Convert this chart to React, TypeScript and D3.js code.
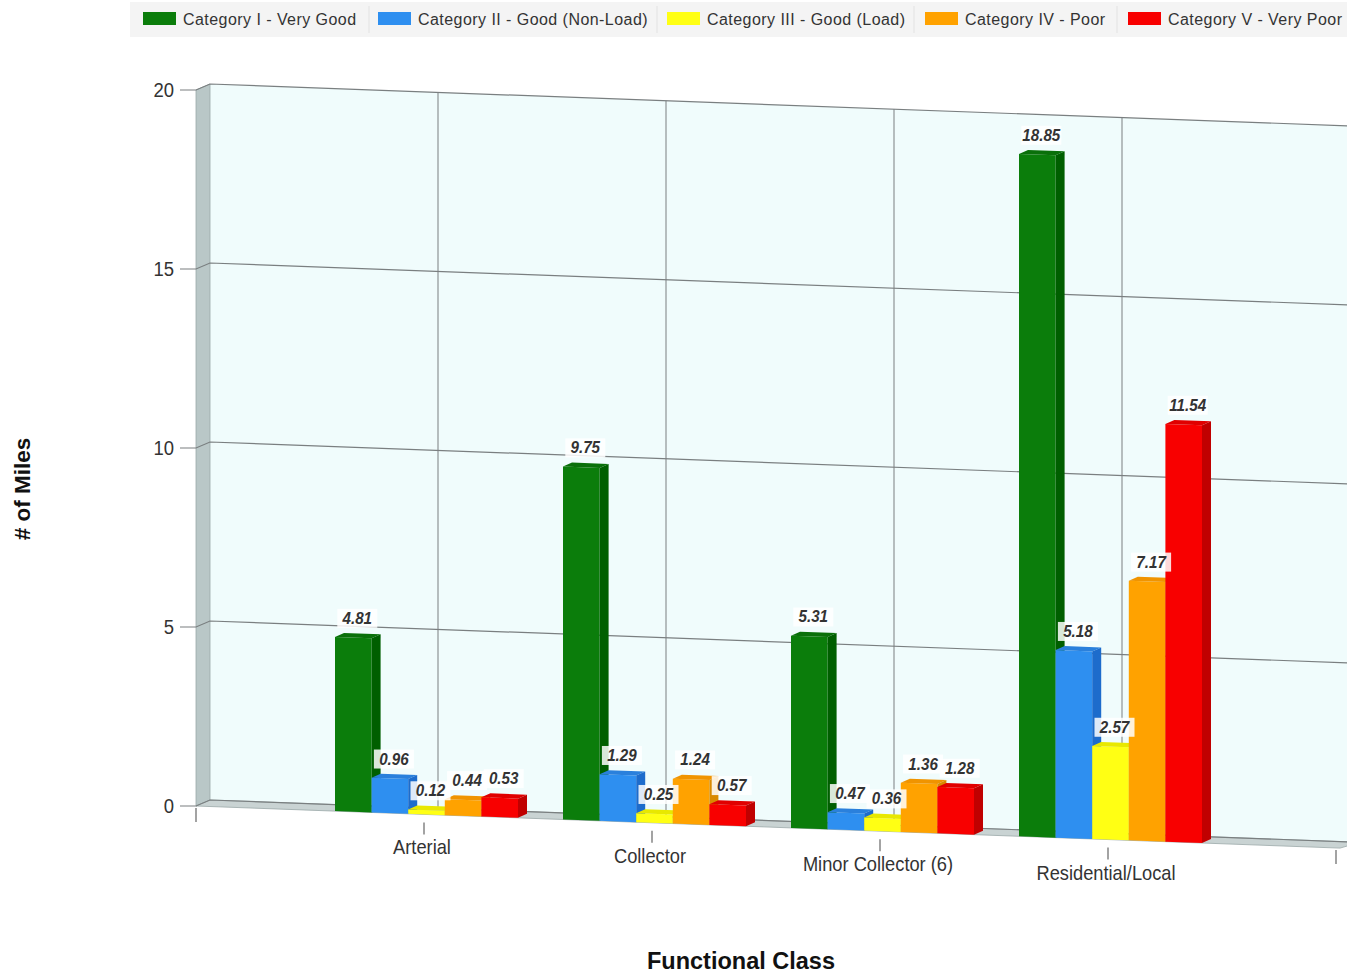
import React from "react";
import * as d3 from "d3";

const categories = ["Arterial", "Collector", "Minor Collector (6)", "Residential/Local"];
const seriesNames = [
  "Category I - Very Good",
  "Category II - Good (Non-Load)",
  "Category III - Good (Load)",
  "Category IV - Poor",
  "Category V - Very Poor",
];
const catI = [4.81, 9.75, 5.31, 18.85];
const catII = [0.96, 1.29, 0.47, 5.18];
const catIII = [0.12, 0.25, 0.36, 2.57];
const catIV = [0.44, 1.24, 1.36, 7.17];
const catV = [0.53, 0.57, 1.28, 11.54];
const seriesValues = [catI, catII, catIII, catIV, catV];
const yTicks = [0, 5, 10, 15, 20];

const frontColors = ["#0b7d0b", "#2e8ff0", "#ffff14", "#ffa200", "#f80000"];
const sideColors = ["#005f00", "#1d6ccc", "#d6d600", "#d98a00", "#c00000"];
const topColors = ["#0a700a", "#2a80dc", "#e8e800", "#f09400", "#e00000"];

const W = 1347;
const H = 973;
const X0 = 196;
const Y0 = 806;
const SLOPE = 0.0368;
const DDX = 14;
const DDY = -6;
const BAR_DX = 9;
const BAR_DY = -4;
const sans = "'Liberation Sans', Arial, Helvetica, sans-serif";

export default function App() {
  const xScale = d3.scaleLinear().domain([0, 5]).range([196, 1336]);
  const yWall = d3.scaleLinear().domain([0, 20]).range([0, 716]);
  const yBar = d3.scaleLinear().domain([0, 20]).range([0, 724]);
  const base = (sx: number) => Y0 + SLOPE * (sx - X0);
  const xL = xScale(0);
  const xR = xScale(5);
  const wallTop = (v: number, sx: number) => base(sx) + DDY - yWall(v);

  const gridLines = yTicks.map((t) => {
    const yFront = base(xL) - yWall(t);
    return {
      t,
      tick: `M${xL - 16},${yFront}L${xL},${yFront}L${xL + DDX},${wallTop(t, xL)}L${xR + DDX + 4},${wallTop(t, xR + 4)}`,
      yFront,
    };
  });

  const wallPoly = [
    [xL + DDX, wallTop(20, xL)],
    [xR + DDX + 10, wallTop(20, xR + 10)],
    [xR + DDX + 10, wallTop(0, xR + 10)],
    [xL + DDX, wallTop(0, xL)],
  ];
  const leftWall = [
    [xL, base(xL) - yWall(20)],
    [xL + DDX, wallTop(20, xL)],
    [xL + DDX, wallTop(0, xL)],
    [xL, base(xL)],
  ];
  const floor = [
    [xL, base(xL)],
    [xL + DDX, wallTop(0, xL)],
    [xR + DDX + 10, wallTop(0, xR + 10)],
    [xR + 4, base(xR + 4)],
  ];
  const pts = (p: number[][]) => p.map((q) => q.join(",")).join(" ");

  const band = d3.scaleBand<number>().domain(d3.range(5)).range([-91.5, 91.5]).padding(0);

  const bars: any[] = [];
  const labels: any[] = [];
  categories.forEach((c, ci) => {
    const center = xScale(ci + 1) + 2.5;
    seriesValues.forEach((vals, si) => {
      const v = vals[ci];
      const x0 = center + (band(si) as number);
      const x1 = x0 + band.bandwidth();
      const b0 = base(x0);
      const b1 = base(x1);
      const t0 = b0 - yBar(v);
      const t1 = b1 - yBar(v);
      bars.push(
        <g key={`b${ci}-${si}`}>
          <polygon points={pts([[x0, t0], [x1, t1], [x1, b1], [x0, b0]])} fill={frontColors[si]} />
          <polygon
            points={pts([[x0, t0], [x0 + BAR_DX, t0 + BAR_DY], [x1 + BAR_DX, t1 + BAR_DY], [x1, t1]])}
            fill={topColors[si]}
          />
          <polygon
            points={pts([[x1, t1], [x1 + BAR_DX, t1 + BAR_DY], [x1 + BAR_DX, b1 + BAR_DY], [x1, b1]])}
            fill={sideColors[si]}
          />
        </g>
      );
      const lx = (x0 + x1) / 2 + 4;
      const ly = base(lx) - yBar(v) - 14;
      labels.push({ key: `l${ci}-${si}`, x: lx, y: ly, text: v.toFixed(2) });
    });
  });

  const legendX = [143, 378, 667, 925, 1128];
  const legendSep = [369, 657, 914, 1117];

  return (
    <svg width={W} height={H} style={{ position: "absolute", left: 0, top: 0, background: "#fff" }}>
      {/* legend */}
      <rect x={130} y={2} width={1217} height={35} fill="#f4f4f4" />
      {legendSep.map((x, i) => (
        <line key={`s${i}`} x1={x} x2={x} y1={6} y2={33} stroke="#e2e2e2" strokeWidth={1} />
      ))}
      {seriesNames.map((n, i) => (
        <g key={`lg${i}`}>
          <rect x={legendX[i]} y={12} width={33} height={13} fill={frontColors[i]} />
          <text
            x={legendX[i] + 40}
            y={24.5}
            fontFamily={sans}
            fontSize={16}
            letterSpacing={0.45}
            fill="#333"
          >
            {n}
          </text>
        </g>
      ))}

      {/* walls */}
      <polygon points={pts(wallPoly)} fill="#f0fcfc" />
      <polygon points={pts(leftWall)} fill="#b9c7c7" stroke="#9aa8a8" strokeWidth={0.8} />
      <polygon points={pts(floor)} fill="#c9d3d3" stroke="#9aa8a8" strokeWidth={0.8} />
      {d3.range(1, 5).map((i) => (
        <line
          key={`v${i}`}
          x1={xScale(i) + DDX}
          x2={xScale(i) + DDX}
          y1={wallTop(20, xScale(i))}
          y2={wallTop(0, xScale(i))}
          stroke="#7a7f80"
          strokeWidth={1}
        />
      ))}
      {gridLines.map((g) => (
        <g key={`g${g.t}`}>
          <path d={g.tick} fill="none" stroke="#7a7f80" strokeWidth={1.2} />
          <text
            transform={`translate(${xL - 22},${g.yFront + 7}) scale(0.88,1)`}
            textAnchor="end"
            fontFamily={sans}
            fontSize={21}
            fill="#333"
          >
            {g.t}
          </text>
        </g>
      ))}
      {/* x ticks */}
      {d3.range(0, 6).map((i) => (
        <line
          key={`xt${i}`}
          x1={xScale(i)}
          x2={xScale(i)}
          y1={base(xScale(i)) + (i === 0 || i === 5 ? 2 : 8)}
          y2={base(xScale(i)) + (i === 0 || i === 5 ? 16 : 20)}
          stroke="#666"
          strokeWidth={1.2}
        />
      ))}

      {bars}

      {labels.map((l) => (
        <g key={l.key}>
          <rect x={l.x - 20} y={l.y - 15} width={40} height={19} fill="#fff" fillOpacity={0.85} />
          <text
            transform={`translate(${l.x},${l.y}) scale(0.92,1)`}
            textAnchor="middle"
            fontFamily={sans}
            fontStyle="italic"
            fontWeight="bold"
            fontSize={16.5}
            fill="#333"
          >
            {l.text}
          </text>
        </g>
      ))}

      {categories.map((c, i) => (
        <text
          key={`c${i}`}
          transform={`translate(${xScale(i + 1) - 2},${base(xScale(i + 1)) + 40}) scale(0.87,1)`}
          textAnchor="middle"
          fontFamily={sans}
          fontSize={21}
          fill="#333"
        >
          {c}
        </text>
      ))}

      <text
        transform="translate(30,489) rotate(-90)"
        textAnchor="middle"
        fontFamily={sans}
        fontWeight="bold"
        fontSize={22.5}
        fill="#111"
      >
        # of Miles
      </text>
      <text x={741} y={969} textAnchor="middle" fontFamily={sans} fontWeight="bold" fontSize={23.5} fill="#111">
        Functional Class
      </text>
    </svg>
  );
}
